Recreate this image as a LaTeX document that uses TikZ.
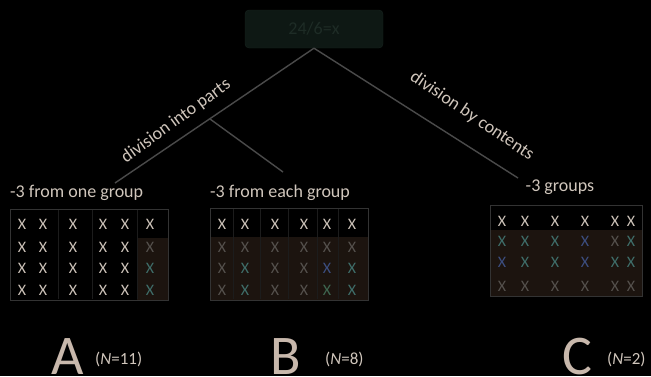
\documentclass[tikz,border=0pt]{standalone}
\usepackage{fontspec}
\setmainfont{Carlito}
\definecolor{txt}{HTML}{D0C6BC}
\definecolor{linec}{HTML}{4A4A4A}
\definecolor{boxfill}{HTML}{0E1814}
\definecolor{boxdraw}{HTML}{18241F}
\definecolor{boxtxt}{HTML}{1E2C26}
\definecolor{gridb}{HTML}{333333}
\definecolor{divc}{HTML}{1C1C1C}
\definecolor{brown}{HTML}{1C140F}
\definecolor{xw}{HTML}{CCC2B8}
\definecolor{xg}{HTML}{55514D}
\definecolor{xt}{HTML}{3F6E6A}
\definecolor{xb}{HTML}{3C4E80}
\definecolor{xgr}{HTML}{3E6650}
\definecolor{bigc}{HTML}{C8B8AC}
\begin{document}
\begin{tikzpicture}[x=1pt,y=-1pt,
  conn/.style={draw=linec,line width=1.4pt},
  lbl/.style={text=txt,font=\fontsize{18}{18}\selectfont,inner sep=0pt},
  xm/.style={font=\fontsize{16}{16}\selectfont,inner sep=0pt},
  big/.style={text=bigc,font=\fontsize{56}{56}\selectfont,inner sep=0pt,anchor=base},
  nn/.style={text=txt,font=\fontsize{17}{17}\selectfont,inner sep=0pt,anchor=west},
  frame/.style={draw=gridb,line width=0.6pt},
  divl/.style={draw=divc,line width=1pt}]
\fill[black] (0,0) rectangle (651,376);
\useasboundingbox (0,0) rectangle (651,376);

% top box
\node[draw=boxdraw,fill=boxfill,rounded corners=4pt,minimum width=138pt,minimum height=38pt,
  text=boxtxt,font=\fontsize{18}{18}\selectfont] (q) at (314,29) {24/6=x};

% connectors
\coordinate (lend) at (115,183);
\coordinate (brk) at (210,119);
\coordinate (bend) at (283,172);
\coordinate (rend) at (518,178);
\draw[conn] (q.south) -- (lend);
\draw[conn] (brk) -- (bend);
\draw[conn] (q.south) -- (rend);

\node[lbl,rotate=36] (dp) at (176,121) {division into parts};
\node[lbl,rotate=-34] (dc) at (472,116) {division by contents};

% headings
\node[lbl,anchor=west] (ha) at (10,193) {-3 from one group};
\node[lbl,anchor=west] (hb) at (210,193) {-3 from each group};
\node[lbl] (hc) at (560,187) {-3 groups};

% grid A
\fill[brown] (137,238) rectangle (168,300);
\draw[divl] (58,210) -- (58,299);
\draw[divl] (92,210) -- (92,299);
\draw[divl] (137,210) -- (137,299);
\draw[frame] (10,209) rectangle (168,300);
\foreach \x/\i in {22/1,43/2,73/3,103/4,125/5}
  \foreach \y/\j in {224/1,247/2,268/3,290/4}
    \node[xm,text=xw] (a\i\j) at (\x,\y) {X};
\node[xm,text=xw] (a61) at (150,224) {X};
\node[xm,text=xg] (a62) at (150,247) {X};
\node[xm,text=xt] (a63) at (150,268) {X};
\node[xm,text=xt] (a64) at (150,290) {X};

% grid B
\fill[brown] (210,237) rectangle (368,300);
\foreach \d in {233,260,288,317,338}
  \draw[divl] (\d,209) -- (\d,299);
\draw[frame] (210,208) rectangle (368,300);
\foreach \x/\i in {222/1,245/2,275/3,304/4,327/5,352/6}
  \node[xm,text=xw] (b\i1) at (\x,224) {X};
\foreach \x/\i/\c in {222/1/xg,245/2/xg,275/3/xg,304/4/xg,327/5/xg,352/6/xg}
  \node[xm,text=\c] (b\i2) at (\x,247) {X};
\foreach \x/\i/\c in {222/1/xg,245/2/xt,275/3/xg,304/4/xg,327/5/xb,352/6/xt}
  \node[xm,text=\c] (b\i3) at (\x,268) {X};
\foreach \x/\i/\c in {222/1/xg,245/2/xt,275/3/xg,304/4/xg,327/5/xgr,352/6/xt}
  \node[xm,text=\c] (b\i4) at (\x,290) {X};

% grid C
\fill[brown] (490,230) rectangle (642,296);
\draw[frame] (490,205) rectangle (642,296);
\foreach \x/\i in {502/1,525/2,555/3,585/4,615/5,631/6}
  \node[xm,text=xw] (c\i1) at (\x,221) {X};
\foreach \x/\i/\c in {502/1/xt,525/2/xt,555/3/xt,585/4/xb,615/5/xg,631/6/xt}
  \node[xm,text=\c] (c\i2) at (\x,241) {X};
\foreach \x/\i/\c in {502/1/xb,525/2/xt,555/3/xt,585/4/xb,615/5/xt,631/6/xt}
  \node[xm,text=\c] (c\i3) at (\x,262) {X};
\foreach \x/\i in {502/1,525/2,555/3,585/4,615/5,631/6}
  \node[xm,text=xg] (c\i4) at (\x,286) {X};

% bottom labels
\node[big] (la) at (68,374) {A};
\node[nn] (na) at (95,359) {(\textit{N}=11)};
\node[big] (lb) at (286,374) {B};
\node[nn] (nb) at (325,359) {(\textit{N}=8)};
\node[big] (lc) at (577,374) {C};
\node[nn] (nc) at (607,359) {(\textit{N}=2)};
\end{tikzpicture}
\end{document}
